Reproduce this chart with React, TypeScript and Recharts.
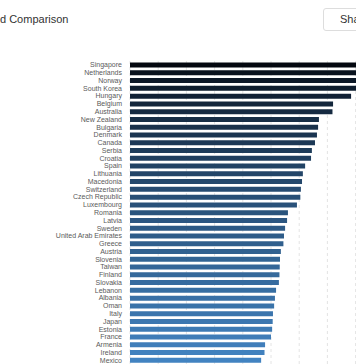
import { BarChart, Bar, XAxis, YAxis, CartesianGrid, Cell } from 'recharts';

const countries = [
  'Singapore', 'Netherlands', 'Norway', 'South Korea', 'Hungary', 'Belgium',
  'Australia', 'New Zealand', 'Bulgaria', 'Denmark', 'Canada', 'Serbia',
  'Croatia', 'Spain', 'Lithuania', 'Macedonia', 'Switzerland', 'Czech Republic',
  'Luxembourg', 'Romania', 'Latvia', 'Sweden', 'United Arab Emirates', 'Greece',
  'Austria', 'Slovenia', 'Taiwan', 'Finland', 'Slovakia', 'Lebanon', 'Albania',
  'Oman', 'Italy', 'Japan', 'Estonia', 'France', 'Armenia', 'Ireland', 'Mexico',
];

const speeds = [
  95, 88, 85, 81, 78.4, 72.0, 71.8, 67.0, 66.7, 66.3, 65.6, 64.5, 64.2, 62.1,
  61.3, 61.0, 60.6, 60.4, 59.2, 56.0, 55.7, 55.0, 54.6, 54.4, 53.5, 53.2, 53.1,
  53.0, 52.8, 51.8, 51.4, 51.1, 50.7, 50.6, 50.4, 50.0, 47.9, 47.7, 46.5,
];

const xTicks = [0, 10, 20, 30, 40, 50, 60, 70, 80, 90, 100];

const data = countries.map((name, i) => ({ name, speed: speeds[i] }));

// dark navy at the top fading to steel blue at the bottom
function barColor(i: number, n: number): string {
  const t = Math.pow(i / (n - 1), 0.7);
  const from = [4, 8, 16];
  const to = [66, 131, 193];
  const c = from.map((f, k) => Math.round(f + (to[k] - f) * t));
  return `rgb(${c[0]}, ${c[1]}, ${c[2]})`;
}

function CountryTick(props: any) {
  const { x, y, payload } = props;
  return (
    <text x={x} y={y} dy={2.5} textAnchor="end" fontSize={7} fill="#5a5a5a">
      {payload.value}
    </text>
  );
}

export default function App() {
  return (
    <div
      style={{
        position: 'absolute',
        top: 0,
        left: 0,
        width: 356,
        height: 364,
        overflow: 'hidden',
        background: '#fff',
        fontFamily: '"Liberation Sans", Arial, sans-serif',
      }}
    >
      <div
        style={{
          position: 'absolute',
          left: -25.7,
          top: 13,
          fontSize: 11,
          color: '#333',
          whiteSpace: 'nowrap',
        }}
      >
        Speed Comparison
      </div>
      <div
        style={{
          position: 'absolute',
          left: 323,
          top: 8,
          height: 23,
          boxSizing: 'border-box',
          padding: '0 16px',
          border: '1px solid #ddd',
          borderRadius: 3,
          fontSize: 11,
          lineHeight: '21px',
          color: '#333',
          whiteSpace: 'nowrap',
        }}
      >
        Share
      </div>
      <div style={{ position: 'absolute', left: 0, top: 0 }}>
        <BarChart
          width={422}
          height={364}
          data={data}
          layout="vertical"
          margin={{ top: 61, right: 10, bottom: 0, left: 0 }}
          barCategoryGap="20%"
        >
          <CartesianGrid
            horizontal={false}
            stroke="#e4e4e4"
            strokeDasharray="3 3"
          />
          <XAxis type="number" domain={[0, 100]} ticks={xTicks} hide />
          <YAxis
            type="category"
            dataKey="name"
            width={130}
            interval={0}
            tickLine={false}
            axisLine={false}
            tick={<CountryTick />}
          />
          <Bar dataKey="speed" isAnimationActive={false}>
            {data.map((entry, i) => (
              <Cell key={entry.name} fill={barColor(i, data.length)} />
            ))}
          </Bar>
        </BarChart>
      </div>
    </div>
  );
}
